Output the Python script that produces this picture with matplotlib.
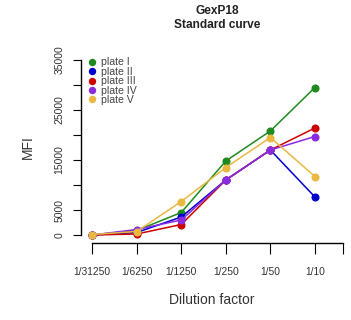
import matplotlib.pyplot as plt
import numpy as np

plt.rcParams['font.family'] = ['Liberation Sans', 'DejaVu Sans']

dilutions = ['1/31250', '1/6250', '1/1250', '1/250', '1/50', '1/10']
plates = ['plate I', 'plate II', 'plate III', 'plate IV', 'plate V']
colors = ['#1f8a1f', '#0000cd', '#cd0000', '#8a2be2', '#e8b840']

plate1 = [0, 900, 4500, 14800, 20800, 29500]
plate2 = [0, 500, 3600, 11000, 17000, 7600]
plate3 = [0, 200, 2100, 11000, 17000, 21400]
plate4 = [0, 1100, 3000, 11000, 17000, 19700]
plate5 = [100, 700, 6700, 13500, 19500, 11700]
series = [plate1, plate2, plate3, plate4, plate5]

x = np.arange(1, len(dilutions) + 1)

fig = plt.figure(figsize=(3.51, 3.2), dpi=100)
ax = fig.add_axes([81 / 351, 1 - 243 / 320, 262 / 351, (243 - 52) / 320])

for vals, c, lab in zip(series, colors, plates):
    ax.plot(x, vals, '-o', color=c, lw=1.1, ms=4.8, label=lab)

ax.set_xlim(0.75, 6.63)
ax.set_ylim(-1600, 36600)

for s in ['top', 'right']:
    ax.spines[s].set_visible(False)
ax.spines['left'].set_bounds(0, 35000)
ax.spines['bottom'].set_bounds(1, 6.63)
for s in ['left', 'bottom']:
    ax.spines[s].set_linewidth(1.0)

ax.set_xticks(list(x) + [6.63])
ax.set_xticklabels(dilutions + [''], fontsize=7.4, color='#333333')
yt = np.arange(0, 35001, 5000)
ax.set_yticks(yt)
ax.set_yticklabels([str(v) if v in (0, 5000, 15000, 25000, 35000) else '' for v in yt],
                   fontsize=7.5, rotation=90, va='center', color='#333333')
ax.tick_params(axis='x', length=8, pad=9)
ax.tick_params(axis='y', length=6, pad=6)

ax.set_xlabel('Dilution factor', fontsize=10, labelpad=12, color='#333333')
ax.set_ylabel('MFI', fontsize=10, labelpad=14, color='#333333')
fig.text(0.618, 0.985, 'GexP18\nStandard curve', ha='center', va='top',
         fontsize=8.6, fontweight='bold', linespacing=1.25, color='#222222')

leg = ax.legend(loc='upper left', bbox_to_anchor=(0.0, 1.01), frameon=False,
                fontsize=7.6, labelspacing=-0.06, handlelength=0.6, handletextpad=0.6,
                borderpad=0.2, markerscale=0.9)
for h in leg.legend_handles:
    h.set_linestyle('none')
for t in leg.get_texts():
    t.set_color('#444444')

fig.savefig('out.png', dpi=100)
